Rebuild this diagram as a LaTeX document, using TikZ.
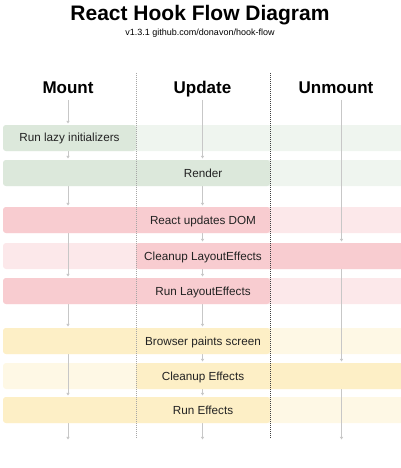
\documentclass[tikz,border=0pt]{standalone}
\usepackage{fontspec}
\setmainfont{Liberation Sans}
\usetikzlibrary{arrows.meta}

\definecolor{greenbar}{HTML}{DCE8DB}
\definecolor{redbar}{HTML}{F8CCD0}
\definecolor{yellowbar}{HTML}{FDEFC6}
\definecolor{textdark}{HTML}{222222}

\begin{document}
\begin{tikzpicture}[x=1pt,y=-1pt,
                    bar/.style={rounded corners=3pt},
                    step label/.style={anchor=base,text=textdark,font=\fontsize{11.7}{14}\selectfont},
                    column head/.style={anchor=base,font=\bfseries\fontsize{17}{20}\selectfont},
                    flow/.style={draw=black!22,line width=0.5pt,shorten >=1.5pt,-{Triangle[length=2.6pt,width=3pt]}}]

          \useasboundingbox (0,0) rectangle (400,468);

          \def\bands{lazy/125/greenbar/3/136/Run lazy initializers/69.5,
                     render/160/greenbar/3/270/Render/203,
                     dom/207/redbar/3/270/React updates DOM/203,
                     cleanlayout/243/redbar/136/404/Cleanup LayoutEffects/203,
                     runlayout/278/redbar/3/270/Run LayoutEffects/203,
                     paint/328/yellowbar/3/270/Browser paints screen/203,
                     cleaneffects/363/yellowbar/136/404/Cleanup Effects/203,
                     runeffects/397/yellowbar/3/270/Run Effects/203}

          % Title
          \node[anchor=base,font=\bfseries\fontsize{21}{24}\selectfont] (title) at (200,21) {React Hook Flow Diagram};
          \node[anchor=base,font=\fontsize{9}{11}\selectfont] (version) at (200,36) {v1.3.1 github.com/donavon/hook-flow};

          % Columns
          \node[column head] (mount) at (68,94) {Mount};
          \node[column head] (update) at (202.5,94) {Update};
          \node[column head] (unmount) at (336,94) {Unmount};

          \coordinate (mcol) at (68,0);
          \coordinate (ucol) at (202.5,0);
          \coordinate (xcol) at (341.5,0);
          \coordinate (start-bot) at (0,100);
          \coordinate (finish-top) at (0,441);

          % Faint bars
          \foreach \name/\y/\clr/\from/\to/\label/\lx in \bands {
            \fill[bar,\clr!45] (3,\y) rectangle (404,\y+26);
            \coordinate (\name-top) at (0,\y);
            \coordinate (\name-bot) at (0,\y+26);
          }

          % Flow lines
          \foreach \a/\b in {start/lazy, lazy/render, render/dom, dom/runlayout, runlayout/paint, paint/runeffects, runeffects/finish}
            \draw[flow] (mcol |- \a-bot) -- (mcol |- \b-top);
          \foreach \a/\b in {start/render, render/dom, dom/cleanlayout, cleanlayout/runlayout, runlayout/paint, paint/cleaneffects, cleaneffects/runeffects, runeffects/finish}
            \draw[flow] (ucol |- \a-bot) -- (ucol |- \b-top);
          \foreach \a/\b in {start/cleanlayout, cleanlayout/cleaneffects, cleaneffects/finish}
            \draw[flow] (xcol |- \a-bot) -- (xcol |- \b-top);

          % Solid bars
          \foreach \name/\y/\clr/\from/\to/\label/\lx in \bands {
            \fill[bar,\clr] (\from,\y) rectangle (\to,\y+26);
            \node[step label] (\name) at (\lx,\y+17) {\label};
          }

          % Dividers
          \draw[black!35,line width=0.5pt,dash pattern=on 1pt off 1pt] (136,73) -- (136,438);
          \draw[black!75,line width=0.5pt,dash pattern=on 1pt off 1pt] (270,73) -- (270,438);
        \end{tikzpicture}
\end{document}
